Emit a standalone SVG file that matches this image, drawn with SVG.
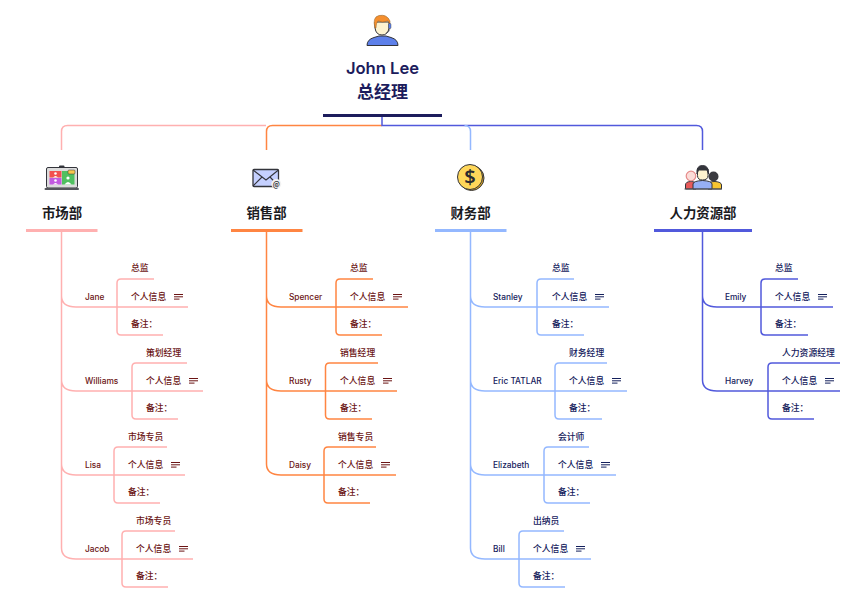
<svg xmlns="http://www.w3.org/2000/svg" width="863" height="601" viewBox="0 0 863 601">
<style>
text{font-family:"Noto Sans CJK SC","Noto Sans",sans-serif}
.n{font-family:"Inter","Noto Sans CJK SC",sans-serif;font-size:8.3px;font-weight:500}
.t{font-size:8.8px;font-weight:500}
.d{font-size:13.4px;font-weight:700;fill:#1b1b1f;text-anchor:middle}
.r{font-size:17px;font-weight:700;fill:#1c1c5c;text-anchor:middle}
.rn{font-family:"Inter","Noto Sans CJK SC",sans-serif;font-size:16.6px;font-weight:600}
.rd{fill:#6b1414}.bl{fill:#14205c}
#connectors path{fill:none;stroke-width:1.5}
.m{stroke:#ffb0b0}.s{stroke:#ff8542}.f{stroke:#94b8ff}.h{stroke:#5159dc}
.o{stroke:#33343b;stroke-width:1;stroke-linejoin:round}
.w{fill:#fff}
</style>
<defs>
<g id="lines"><path d="M0 0.5H9M0 2.8H9M0 5.1H5.500" fill="none" stroke-width="1"/></g>
</defs>
<g id="connectors">
<path class="m" d="M61.5 150V131.500Q61.500 125.500 67.500 125.500H266"/>
<path class="s" d="M382 125.500H272.500Q266.500 125.500 266.500 131.500V150"/>
<path class="h" d="M382 117V125.500H696.500Q702.500 125.500 702.500 131.500V150"/>
<path class="f" d="M464.500 125.500Q470.500 125.500 470.500 131.500V150"/>
<path class="m" d="M61.500 232V548Q61.500 559 76 559H193M61.500 296Q61.500 307 76 307H188M61.500 380Q61.500 391 76 391H203M61.500 464Q61.500 475 76 475H185"/>
<path class="m" d="M154 279H121Q117 279 117 283V331Q117 335 121 335H163"/>
<path class="m" d="M187 363H136Q132 363 132 367V415Q132 419 136 419H178"/>
<path class="m" d="M167 447H118Q114 447 114 451V499Q114 503 118 503H160"/>
<path class="m" d="M175 531H126Q122 531 122 535V583Q122 587 126 587H168"/>
<path class="s" d="M266.500 232V464Q266.500 475 281 475H396M266.500 296Q266.500 307 281 307H408M266.500 380Q266.500 391 281 391H397"/>
<path class="s" d="M373 279H340Q336 279 336 283V331Q336 335 340 335H382"/>
<path class="s" d="M378 363H329.500Q325.500 363 325.500 367V415Q325.500 419 329.500 419H372"/>
<path class="s" d="M376 447H328Q324 447 324 451V499Q324 503 328 503H370"/>
<path class="f" d="M470.500 232V548Q470.500 559 485 559H591M470.500 296Q470.500 307 485 307H609M470.500 380Q470.500 391 485 391H627M470.500 464Q470.500 475 485 475H616"/>
<path class="f" d="M574 279H541Q537 279 537 283V331Q537 335 541 335H584"/>
<path class="f" d="M607 363H559Q555 363 555 367V415Q555 419 559 419H602"/>
<path class="f" d="M589 447H548Q544 447 544 451V499Q544 503 548 503H590"/>
<path class="f" d="M564 531H523Q519 531 519 535V583Q519 587 523 587H565"/>
<path class="h" d="M702.500 232V380Q702.500 391 717 391H840M702.500 296Q702.500 307 717 307H833"/>
<path class="h" d="M798 279H765Q761 279 761 283V331Q761 335 765 335H808"/>
<path class="h" d="M840 363H772Q768 363 768 367V415Q768 419 772 419H814"/>
</g>
<g id="root">
<path d="M367 45.500H398Q398 39.500 391 37.500L386 36H379L374 37.500Q367 39.500 367 45.500Z" fill="#5d80ea" class="o"/>
<path d="M375 22V28Q376 35 382 35Q388 35 389 28V22Z" fill="#fdf3d0" class="o"/>
<path d="M375 28Q372 17 379 15.500Q387 14 390 21V24L388 21Q382 23 378 21Q376 23 376 28Z" fill="#f58f2e" stroke="#8a5a20" stroke-width=".5"/>
<rect x="388.500" y="23.500" width="2.500" height="5" rx="1" fill="#5d80ea" stroke="#33343b" stroke-width=".4"/>
<path d="M390 28.500Q390 32 386 33" fill="none" stroke="#33343b" stroke-width=".5"/>
<rect x="323" y="114" width="119" height="3" fill="#1c1c5c"/>
<text class="r rn" x="382.500" y="74">John Lee</text>
<text class="r" x="382.500" y="97.500">总经理</text>
</g>
<g id="dept-market">
<rect x="46.500" y="167.500" width="31" height="20.500" rx="1.500" fill="#dcdcdc" class="o"/>
<rect x="49.500" y="171" width="12" height="6.500" fill="#f25050"/><rect x="49.500" y="178" width="12" height="6.500" fill="#c25ae0"/><rect x="62" y="171" width="12.500" height="13.500" fill="#50c060"/>
<circle cx="55.500" cy="173.500" r="1.300" class="w"/><path d="M53 177.500Q55.500 174.500 58 177.500Z" class="w"/>
<circle cx="55.500" cy="180.500" r="1.300" class="w"/><path d="M53 184.500Q55.500 181.500 58 184.500Z" class="w"/>
<circle cx="68" cy="178" r="1.600" class="w"/><path d="M64.500 184.500Q68 179.500 71.500 184.500Z" class="w"/>
<rect x="68" y="170" width="7" height="4" rx="1" fill="#f6c84c" stroke="#33343b" stroke-width=".5"/>
<rect x="44.500" y="188" width="34.500" height="2" rx="1" fill="#55565c"/>
<rect x="59" y="165.500" width="5.500" height="2.500" rx="1" fill="#33343b"/>
<rect x="26" y="229" width="71.500" height="3" fill="#ffb0b0"/>
<text class="d" x="62" y="218">市场部</text>
</g>
<g id="dept-sales">
<rect x="253" y="169.500" width="25.500" height="17" rx="1" fill="#c5d0ff" stroke="#33343b" stroke-width="1.300" stroke-linejoin="round"/>
<path d="M253 170L266 180L278.500 170M253 186L262 177M278.500 186L270 177" fill="none" stroke="#33343b" stroke-width="1.100"/>
<circle cx="276.300" cy="184" r="5" fill="#f2f2f2"/>
<text x="276.300" y="186.500" font-size="7" font-weight="700" text-anchor="middle" fill="#33343b">@</text>
<rect x="231" y="229" width="71.500" height="3" fill="#ff8542"/>
<text class="d" x="266.500" y="218">销售部</text>
</g>
<g id="dept-finance">
<circle cx="471.500" cy="178" r="12.500" fill="#d9a520" class="o"/>
<circle cx="470" cy="177" r="12.500" fill="#ffd75a" class="o"/>
<text x="470" y="184" font-size="20" font-weight="600" text-anchor="middle" fill="#2a2a30" style="font-family:'Noto Sans',sans-serif">$</text>
<rect x="435" y="229" width="71.500" height="3" fill="#94b8ff"/>
<text class="d" x="470.500" y="218">财务部</text>
</g>
<g id="dept-hr">
<path d="M685.500 189V185Q685.500 181.500 691 181.500Q696 181.500 696 185V189Z" fill="#e85a5a" class="o"/>
<circle cx="691" cy="176" r="4.800" fill="#fbdcd8" stroke="#e58a8a" stroke-width="1.200"/>
<path d="M708 189V185Q708 181.500 715 181.500Q721.500 182 721.500 185V189Z" fill="#f7c531" class="o"/>
<circle cx="713.500" cy="176.500" r="5" fill="#3a3a40"/>
<path d="M693 189V184Q693 181 702.500 180.500Q712 181 712 184V189Z" fill="#96aff5" class="o"/>
<path d="M697.500 169H708V175.500Q708 180 702.500 180Q697.500 180 697.500 175.500Z" fill="#fdf3d0" class="o"/>
<path d="M697 174Q696 165.500 702.500 165.500Q709 165.500 708.500 174L707 170H698.500Z" fill="#33343b" class="o"/>
<rect x="684.500" y="188.500" width="37.500" height="1" fill="#55565c"/>
<rect x="654" y="229" width="98" height="3" fill="#5159dc"/>
<text class="d" x="703" y="218">人力资源部</text>
</g>
<g id="jane"><text class="n rd" x="85" y="300">Jane</text><text class="t rd" x="131" y="271">总监</text><text class="t rd" x="131" y="300">个人信息</text><text class="t rd" x="131" y="327">备注：</text><use href="#lines" x="174" y="294" stroke="#6b1414"/></g>
<g id="williams"><text class="n rd" x="85" y="384">Williams</text><text class="t rd" x="146" y="356">策划经理</text><text class="t rd" x="146" y="384">个人信息</text><text class="t rd" x="146" y="411">备注：</text><use href="#lines" x="189" y="378" stroke="#6b1414"/></g>
<g id="lisa"><text class="n rd" x="85" y="468">Lisa</text><text class="t rd" x="128" y="440">市场专员</text><text class="t rd" x="128" y="468">个人信息</text><text class="t rd" x="128" y="495">备注：</text><use href="#lines" x="171" y="462" stroke="#6b1414"/></g>
<g id="jacob"><text class="n rd" x="85" y="552">Jacob</text><text class="t rd" x="136" y="524">市场专员</text><text class="t rd" x="136" y="552">个人信息</text><text class="t rd" x="136" y="579">备注：</text><use href="#lines" x="179" y="546" stroke="#6b1414"/></g>
<g id="spencer"><text class="n rd" x="289" y="300">Spencer</text><text class="t rd" x="350" y="271">总监</text><text class="t rd" x="350" y="300">个人信息</text><text class="t rd" x="350" y="327">备注：</text><use href="#lines" x="393" y="294" stroke="#6b1414"/></g>
<g id="rusty"><text class="n rd" x="289" y="384">Rusty</text><text class="t rd" x="340" y="356">销售经理</text><text class="t rd" x="340" y="384">个人信息</text><text class="t rd" x="340" y="411">备注：</text><use href="#lines" x="383" y="378" stroke="#6b1414"/></g>
<g id="daisy"><text class="n rd" x="289" y="468">Daisy</text><text class="t rd" x="338" y="440">销售专员</text><text class="t rd" x="338" y="468">个人信息</text><text class="t rd" x="338" y="495">备注：</text><use href="#lines" x="381" y="462" stroke="#6b1414"/></g>
<g id="stanley"><text class="n bl" x="493" y="300">Stanley</text><text class="t bl" x="552" y="271">总监</text><text class="t bl" x="552" y="300">个人信息</text><text class="t bl" x="552" y="327">备注：</text><use href="#lines" x="595" y="294" stroke="#14205c"/></g>
<g id="eric"><text class="n bl" x="493" y="384">Eric TATLAR</text><text class="t bl" x="569" y="356">财务经理</text><text class="t bl" x="569" y="384">个人信息</text><text class="t bl" x="569" y="411">备注：</text><use href="#lines" x="612" y="378" stroke="#14205c"/></g>
<g id="elizabeth"><text class="n bl" x="493" y="468">Elizabeth</text><text class="t bl" x="558" y="440">会计师</text><text class="t bl" x="558" y="468">个人信息</text><text class="t bl" x="558" y="495">备注：</text><use href="#lines" x="601" y="462" stroke="#14205c"/></g>
<g id="bill"><text class="n bl" x="493" y="552">Bill</text><text class="t bl" x="533" y="524">出纳员</text><text class="t bl" x="533" y="552">个人信息</text><text class="t bl" x="533" y="579">备注：</text><use href="#lines" x="576" y="546" stroke="#14205c"/></g>
<g id="emily"><text class="n bl" x="725" y="300">Emily</text><text class="t bl" x="775" y="271">总监</text><text class="t bl" x="775" y="300">个人信息</text><text class="t bl" x="775" y="327">备注：</text><use href="#lines" x="818" y="294" stroke="#14205c"/></g>
<g id="harvey"><text class="n bl" x="725" y="384">Harvey</text><text class="t bl" x="782" y="356">人力资源经理</text><text class="t bl" x="782" y="384">个人信息</text><text class="t bl" x="782" y="411">备注：</text><use href="#lines" x="825" y="378" stroke="#14205c"/></g>
</svg>
